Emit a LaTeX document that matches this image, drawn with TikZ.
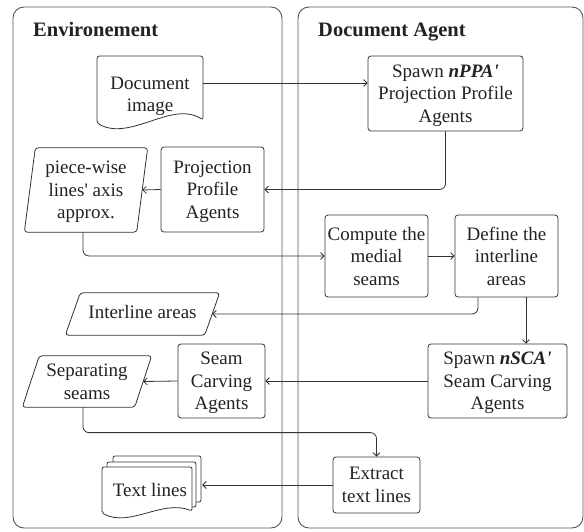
\documentclass[tikz,border=0pt]{standalone}
\usepackage{fontspec}
\setmainfont{Liberation Serif}
\usetikzlibrary{arrows.meta}
\definecolor{edge}{HTML}{333333}
\definecolor{frame}{HTML}{555555}
\definecolor{ink}{HTML}{222222}

% parallelogram drawn around a (borderless) node: #1 = node name, #2 = slant
\newcommand\slantframe[2]{%
  \draw[draw=edge, line width=0.8pt, rounded corners=3pt]
    ([xshift=#2/2]#1.north) -- ([xshift=#2/2]#1.north east)
    -- ([xshift=-#2/2]#1.south east) -- ([xshift=-#2/2]#1.south west)
    -- ([xshift=#2/2]#1.north west) -- cycle;}

\begin{document}
\begin{tikzpicture}[x=1pt, y=-1pt,
  every node/.style={font=\fontsize{19}{22.5}\selectfont, text=ink},
  box/.style={draw=edge, line width=0.8pt, rounded corners=3pt, align=center, inner sep=0pt, text depth=0pt},
  plain/.style={inner sep=0pt, align=center, text depth=0pt},
  arr/.style={draw=edge, line width=0.8pt, -{Straight Barb[length=3.5pt,width=7pt]}, rounded corners=6pt},
  panel/.style={draw=frame, line width=0.9pt, rounded corners=11pt},
  title/.style={font=\fontsize{20.5}{24}\selectfont\bfseries, anchor=base west, inner sep=0pt},
  shapeline/.style={draw=edge, line width=0.8pt}]

\useasboundingbox (0,0) rectangle (584,532);

% swimlanes
\draw[panel] (13,7) rectangle (282,528);
\draw[panel] (298,7) rectangle (583,528);
\node[title] (envtitle) at (33,37) {Environement};
\node[title] (agenttitle) at (318,37) {Document Agent};

% document image (document shape)
\draw[shapeline, rounded corners=2.5pt] (150,56) -- (203,56) -- (203,120)
  .. controls (172,100) and (130,142) .. (97,123) -- (97,56) -- cycle;
\node[plain, minimum width=106] (doc) at (150,94.5) {Document\\image};

% Document Agent boxes
\node[box, minimum width=155, minimum height=75] (nppa) at (445.5,93.5)
  {Spawn \textbf{\textit{nPPA\textquotesingle}}\\Projection Profile\\Agents};
\node[box, minimum width=103, minimum height=85] (ppa) at (212.5,189.5)
  {Projection\\Profile\\Agents};
\node[box, minimum width=103, minimum height=82] (compute) at (376.5,256)
  {Compute the\\medial\\seams};
\node[box, minimum width=103, minimum height=82] (define) at (506.5,256)
  {Define the\\interline\\areas};
\node[box, minimum width=139, minimum height=74] (nsca) at (497.5,381)
  {Spawn \textbf{\textit{nSCA\textquotesingle}}\\Seam Carving\\Agents};
\node[box, minimum width=87, minimum height=74] (sca) at (221.5,381)
  {Seam\\Carving\\Agents};
\node[box, minimum width=87, minimum height=56] (extract) at (376.5,485)
  {Extract\\text lines};

% data (parallelograms)
\node[plain, minimum width=112, minimum height=84] (pw) at (86,190)
  {piece-wise\\lines\textquotesingle{} axis\\approx.};
\slantframe{pw}{11}
\node[plain, minimum width=139, minimum height=42, text depth=5pt] (ia) at (142.5,314)
  {Interline areas};
\slantframe{ia}{15}
\node[plain, minimum width=112, minimum height=51] (ss) at (87,381.5)
  {Separating\\seams};
\slantframe{ss}{17}

% text lines (stack of documents)
\draw[shapeline, rounded corners=2pt] (113,462) -- (113,456) -- (201,456) -- (201,502) -- (196,502);
\draw[shapeline, rounded corners=2pt] (107,467) -- (107,462) -- (196,462) -- (196,507) -- (192,507);
\draw[shapeline, rounded corners=2pt] (147,467) -- (192,467) -- (192,511)
  .. controls (162,499) and (130,528) .. (102,513) -- (102,467) -- cycle;
\node[plain, minimum width=100, minimum height=57] (tl) at (152,484.5) {};
\node[plain] (tltext) at (150,490) {Text lines};

% connectors
\draw[arr] ([yshift=11.5pt]doc.east) -- ([yshift=11.5pt]doc.east -| nppa.west);
\draw[arr] (nppa.south) |- (ppa.east);
\draw[arr] (ppa.west) -- (pw.east);
\draw[arr] ([xshift=-3pt]pw.south) |- (compute.west);
\draw[arr] (compute.east) -- (define.west);
\draw[arr] ([xshift=-28.5pt]define.south) |- (ia.east);
\draw[arr] ([xshift=19.5pt]define.south) -- ([xshift=19.5pt]define.south |- nsca.north);
\draw[arr] (nsca.west) -- (sca.east);
\draw[arr] (sca.west) -- (ss.east);
\draw[arr] ([xshift=-4pt]ss.south) |- ([yshift=24pt]extract.north) -- (extract.north);
\draw[arr] (extract.west) -- (tl.east |- extract.west);
\end{tikzpicture}
\end{document}
